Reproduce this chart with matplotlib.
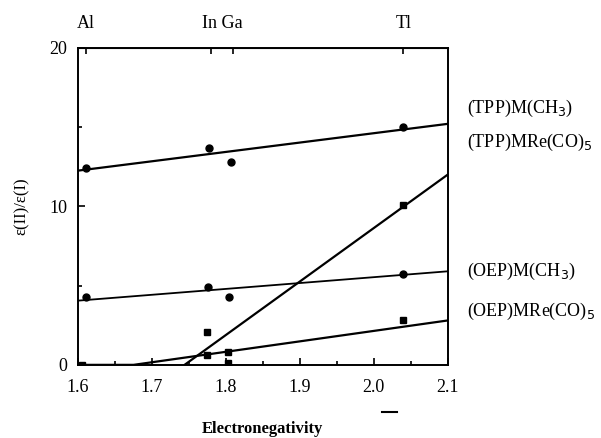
import matplotlib
matplotlib.use('Agg')
from matplotlib import pyplot
from matplotlib.ticker import MultipleLocator

pyplot.rcParams['font.family'] = ['Liberation Serif', 'DejaVu Serif']

# electronegativity of the metals on the top axis
metals = ['Al', 'In Ga', 'Tl']
metal_x = [1.61, 1.795, 2.04]
metal_ticks = [1.61, 1.78, 1.81, 2.04]

# measured points
tpp_me_x = [1.61, 1.777, 1.807, 2.04]
tpp_me_y = [12.4, 13.7, 12.8, 15.0]
oep_me_x = [1.61, 1.776, 1.804, 2.04]
oep_me_y = [4.25, 4.9, 4.3, 5.75]
tpp_re_x = [2.04]
tpp_re_y = [10.1]
oep_re_x = [1.605, 1.775, 1.774, 1.803, 1.803, 2.04]
oep_re_y = [0.0, 2.1, 0.6, 0.8, 0.12, 2.8]

# fitted lines
tpp_me_line_x = [1.6, 2.1]
tpp_me_line_y = [12.25, 15.2]
oep_me_line_x = [1.6, 2.1]
oep_me_line_y = [4.05, 5.9]
tpp_re_line_x = [1.744, 2.1]
tpp_re_line_y = [0.0, 12.0]
oep_re_line_x = [1.6, 1.675, 2.1]
oep_re_line_y = [0.0, 0.0, 2.8]

labels = ['(TPP)M(CH$_3$)', '(TPP)MRe(CO)$_5$', '(OEP)M(CH$_3$)', '(OEP)MRe(CO)$_5$']
label_y = [16.2, 14.0, 5.9, 3.4]

fig = pyplot.figure(figsize=(6.01, 4.38), dpi=100)
axes = fig.add_axes([0.13, 0.167, 0.615, 0.724])

lw = 1.6
axes.plot(tpp_me_line_x, tpp_me_line_y, color='black', lw=lw)
axes.plot(oep_me_line_x, oep_me_line_y, color='black', lw=1.3)
axes.plot(tpp_re_line_x, tpp_re_line_y, color='black', lw=lw)
axes.plot(oep_re_line_x, oep_re_line_y, color='black', lw=lw)

axes.plot(tpp_me_x, tpp_me_y, 'o', color='black', ms=5)
axes.plot(oep_me_x, oep_me_y, 'o', color='black', ms=5)
axes.plot(tpp_re_x, tpp_re_y, 's', color='black', ms=5)
axes.plot(oep_re_x, oep_re_y, 's', color='black', ms=5)

axes.set_xlim(1.6, 2.1)
axes.set_ylim(0, 20)
axes.xaxis.set_major_locator(MultipleLocator(0.1))
axes.xaxis.set_minor_locator(MultipleLocator(0.05))
axes.yaxis.set_major_locator(MultipleLocator(10))
axes.yaxis.set_minor_locator(MultipleLocator(5))
axes.set_xticklabels(['%.1f' % v for v in axes.get_xticks()])
axes.tick_params(which='both', direction='in', top=False, right=False,
                 labelsize=13, width=1.2)
axes.tick_params(which='major', length=5)
axes.tick_params(which='minor', length=3)
axes.tick_params(axis='x', which='major', pad=10)
axes.tick_params(axis='y', which='major', pad=8)
for s in axes.spines.values():
    s.set_linewidth(1.4)

top = axes.secondary_xaxis('top')
top.set_xticks(metal_ticks)
top.set_xticklabels([])
top.tick_params(direction='in', length=4, width=1.2)
for name, x in zip(metals, metal_x):
    axes.annotate(name, xy=(x, 20), xycoords='data', xytext=(0, 11),
                  textcoords='offset points', ha='center', va='bottom', size=13)

for text, y in zip(labels, label_y):
    axes.annotate(text, xy=(2.1, y), xycoords='data', xytext=(14, 0),
                  textcoords='offset points', ha='left', va='center', size=13)

axes.set_xlabel('Electronegativity', fontsize=12, fontweight='bold', labelpad=18)
axes.set_ylabel('ε(II)/ε(I)', fontsize=12, labelpad=14)

# small stray dash under 2.0
fig.lines.append(pyplot.Line2D([0.635, 0.66], [0.06, 0.06], transform=fig.transFigure,
                               color='black', lw=1.5))

pyplot.savefig('out.png', dpi=100)
